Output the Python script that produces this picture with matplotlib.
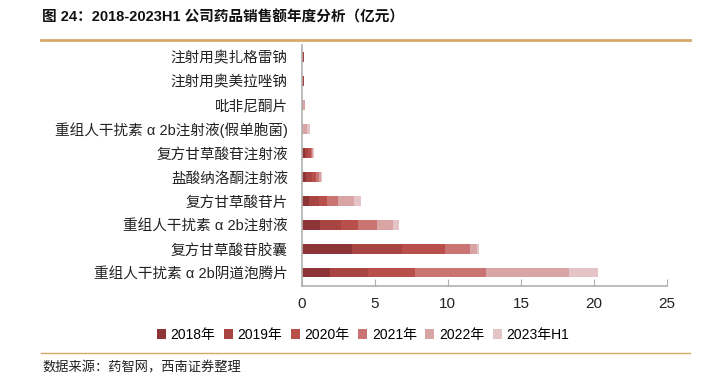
import numpy as np
import matplotlib.pyplot as plt
from matplotlib.lines import Line2D

plt.rcParams['font.family'] = ['Liberation Sans', 'Noto Sans CJK SC']

# Data ------------------------------------------------
drugs = ['注射用奥扎格雷钠', '注射用奥美拉唑钠', '吡非尼酮片',
         '重组人干扰素 α 2b注射液(假单胞菌)', '复方甘草酸苷注射液', '盐酸纳洛酮注射液',
         '复方甘草酸苷片', '重组人干扰素 α 2b注射液', '复方甘草酸苷胶囊',
         '重组人干扰素 α 2b阴道泡腾片']
years = ['2018年', '2019年', '2020年', '2021年', '2022年', '2023年H1']

v2018 = [0.07, 0.07, 0.00, 0.00, 0.23, 0.30, 0.50, 1.25, 3.41, 1.93]
v2019 = [0.07, 0.07, 0.00, 0.00, 0.23, 0.41, 0.68, 1.43, 3.44, 2.62]
v2020 = [0.00, 0.00, 0.00, 0.00, 0.15, 0.27, 0.55, 1.14, 2.96, 3.19]
v2021 = [0.00, 0.00, 0.08, 0.00, 0.10, 0.18, 0.75, 1.32, 1.68, 4.84]
v2022 = [0.00, 0.00, 0.12, 0.35, 0.08, 0.14, 1.09, 1.09, 0.50, 5.69]
v2023 = [0.00, 0.00, 0.05, 0.22, 0.05, 0.07, 0.46, 0.41, 0.11, 2.03]
series = [v2018, v2019, v2020, v2021, v2022, v2023]

colors = ['#8c3436', '#a84442', '#b84f4b', '#c97473', '#d9a4a4', '#e4c4c6']

# Figure ----------------------------------------------
fig = plt.figure(figsize=(7.13, 3.79), dpi=100)
ax = fig.add_axes([301.7 / 713, 1 - 286 / 379, (667 - 301.7) / 713, (286 - 45) / 379])

y = np.arange(len(drugs))[::-1]
left = np.zeros(len(drugs))
for vals, c, lab in zip(series, colors, years):
    ax.barh(y, vals, left=left, height=0.39, color=c, label=lab, zorder=2)
    left += np.array(vals)

ax.set_xlim(0, 25)
ax.set_ylim(-0.55, 9.5)
ax.set_xticks([0, 5, 10, 15, 20, 25])
ax.set_yticks(y)
ax.set_yticklabels(drugs, fontsize=10.5, color='#222222')

for s in ['top', 'right']:
    ax.spines[s].set_visible(False)
for s in ['left', 'bottom']:
    ax.spines[s].set_color('#b0b0b0')
    ax.spines[s].set_linewidth(1.2)
ax.tick_params(axis='y', length=0, pad=10)
ax.tick_params(axis='x', direction='in', length=5, color='#b0b0b0',
               labelsize=11, pad=8, labelcolor='#222222')

# Legend ----------------------------------------------
fig.legend(*ax.get_legend_handles_labels(), loc='center', bbox_to_anchor=(363 / 713, 1 - 335 / 379),
           ncol=6, frameon=False, fontsize=10, handlelength=0.65, handleheight=0.65,
           handletextpad=0.35, columnspacing=0.6)

# Title and decorations -------------------------------
fig.text(42 / 713, 1 - 17 / 379, '图 24：2018-2023H1 公司药品销售额年度分析（亿元）',
         fontsize=10.5, fontweight='bold', va='center', ha='left', color='#111111')
fig.add_artist(Line2D([41 / 713, 690 / 713], [1 - 39.5 / 379] * 2, color='#d4a96a', lw=2))
fig.add_artist(Line2D([41 / 713, 690 / 713], [1 - 353 / 379] * 2, color='#d4a96a', lw=1))
fig.text(42 / 713, 1 - 368 / 379, '数据来源：药智网，西南证券整理', fontsize=9.5,
         style='italic', va='center', ha='left', color='#222222')

plt.savefig('out.png', dpi=100)
